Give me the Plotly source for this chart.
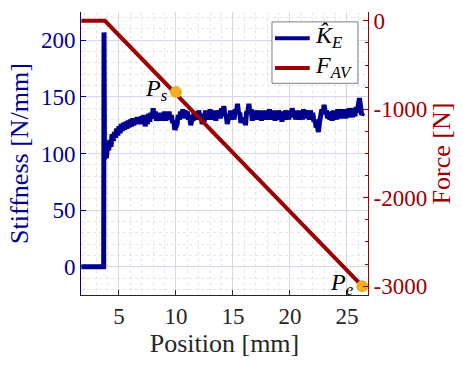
import numpy as np
import plotly.graph_objects as go

# ---- data ----
step_pos = [1.7, 3.66, 3.69, 3.73]
step_stiff = [0, 0, 207, 95]
noisy_pos = np.round(np.arange(3.8, 26.45, 0.1), 2).tolist()
noisy_stiff = [
    100, 96, 108, 103, 112, 106, 117, 111, 119, 114,
    122, 116, 124, 118, 126, 120, 127, 121, 128, 122,
    129, 123, 130, 124, 131, 125, 130, 126, 132, 126,
    132, 127, 133, 126, 134, 124, 130, 126, 135, 128,
    136, 131, 140, 132, 137, 129, 134, 130, 136, 129,
    135, 130, 137, 129, 136, 130, 137, 130, 134, 127,
    129, 121, 124, 126, 134, 130, 137, 131, 139, 132,
    138, 131, 137, 130, 134, 125, 130, 129, 137, 131,
    137, 130, 138, 131, 135, 126, 130, 130, 138, 131,
    137, 130, 139, 131, 138, 130, 137, 129, 138, 131,
    138, 131, 140, 134, 142, 133, 135, 126, 131, 130,
    138, 131, 137, 130, 139, 135, 144, 135, 136, 127,
    131, 128, 132, 125, 137, 136, 144, 135, 139, 129,
    137, 130, 138, 131, 137, 130, 138, 129, 137, 130,
    138, 130, 137, 131, 139, 130, 136, 131, 138, 129,
    137, 130, 138, 131, 136, 128, 137, 130, 138, 131,
    137, 130, 138, 132, 140, 133, 138, 130, 137, 130,
    138, 131, 137, 130, 139, 132, 138, 131, 137, 130,
    138, 131, 136, 128, 130, 123, 125, 119, 128, 133,
    139, 135, 143, 136, 138, 131, 137, 130, 136, 129,
    138, 131, 137, 130, 139, 132, 138, 131, 139, 132,
    138, 131, 139, 132, 140, 133, 139, 132, 140, 133,
    141, 136, 146, 149, 141, 134, 136,
]
stiff_pos = step_pos + noisy_pos[:len(noisy_stiff)]
stiff_vals = step_stiff + noisy_stiff

force_pos = [1.7, 3.77, 26.35]
force_vals = [0, 0, -3000]

pt_pos = [10.0, 26.35]
pt_force = [-806, -3000]
pt_labels = ["<i>P</i><sub><i>s</i></sub>", "<i>P</i><sub><i>e</i></sub>"]

series_names = ["<i>K̂</i><sub><i>E</i></sub>", "<i>F</i><sub><i>AV</i></sub>"]

x_ticks = [5, 10, 15, 20, 25]
y1_ticks = [0, 50, 100, 150, 200]
y2_ticks = [0, -1000, -2000, -3000]
y2_ticktext = ["0", "-1000", "-2000", "-3000"]

BLUE = "#00008f"
RED = "#9c0000"
GOLD = "#edb120"
FONT = "Liberation Serif, Times New Roman, serif"
TICK = 23
TITLE = 26

fig = go.Figure()
fig.add_trace(go.Scatter(x=stiff_pos, y=stiff_vals, mode="lines",
                         line=dict(color=BLUE, width=5), name=series_names[0],
                         showlegend=False))
fig.add_trace(go.Scatter(x=force_pos, y=force_vals, mode="lines",
                         line=dict(color=RED, width=4), yaxis="y2", name=series_names[1],
                         showlegend=False))
fig.add_trace(go.Scatter(x=pt_pos, y=pt_force, mode="markers", yaxis="y2",
                         marker=dict(color=GOLD, size=12), showlegend=False,
                         cliponaxis=False))
for px, pf, lab in zip(pt_pos, pt_force, pt_labels):
    fig.add_annotation(x=px, y=pf, xref="x", yref="y2", text=lab, showarrow=False,
                       xanchor="right", yanchor="middle", xshift=-6, yshift=2,
                       font=dict(family=FONT, size=24, color="black"))

# manual legend box (paper coordinates of the plot area)
fig.add_shape(type="rect", xref="paper", yref="paper", x0=0.6655, x1=0.965,
              y0=0.748, y1=0.965, line=dict(color="#7f7f7f", width=1),
              fillcolor="white", layer="above")
for yy, col, name in zip([0.907, 0.802], [BLUE, RED], series_names):
    fig.add_shape(type="line", xref="paper", yref="paper", x0=0.676, x1=0.797,
                  y0=yy, y1=yy, line=dict(color=col, width=4), layer="above")
    fig.add_annotation(x=0.808, y=yy, xref="paper", yref="paper", text=name,
                       showarrow=False, xanchor="left", yanchor="middle", yshift=1,
                       font=dict(family=FONT, size=24, color="black"))

fig.update_layout(
    width=463, height=365,
    margin=dict(l=81, r=95, t=9, b=70),
    paper_bgcolor="white", plot_bgcolor="white",
    font=dict(family=FONT, size=TICK, color="#262626"),
    showlegend=False,
    xaxis=dict(range=[1.67, 26.85], tickvals=x_ticks, ticks="inside", ticklen=5,
               tickcolor="#262626", showline=True, linecolor="#262626", linewidth=1,
               showgrid=True, gridcolor="#d9d9d9", gridwidth=1, zeroline=False,
               tickfont=dict(family=FONT, size=TICK, color="#262626"),
               title=dict(text="Position [mm]", font=dict(family=FONT, size=TITLE, color="#262626"), standoff=2),
               minor=dict(dtick=1, showgrid=True, gridcolor="#e6e6e6", griddash="dot",
                          ticks="")),
    yaxis=dict(range=[-25, 225], tickvals=y1_ticks, ticks="inside", ticklen=5,
               tickcolor=BLUE, showline=True, linecolor=BLUE, linewidth=1,
               showgrid=True, gridcolor="#d8d8ec", gridwidth=1, zeroline=False,
               tickfont=dict(family=FONT, size=TICK, color=BLUE),
               title=dict(text="Stiffness [N/mm]", font=dict(family=FONT, size=TITLE, color=BLUE), standoff=4),
               minor=dict(dtick=10, showgrid=True, gridcolor="#e6e6e6", griddash="dot",
                          ticks="")),
    yaxis2=dict(range=[-3100, 100], tickvals=y2_ticks, ticktext=y2_ticktext,
                overlaying="y", side="right",
                ticks="inside", ticklen=5, tickcolor=RED, showline=True, linecolor=RED,
                linewidth=1, showgrid=False, zeroline=False,
                tickfont=dict(family=FONT, size=TICK, color=RED),
                title=dict(text="Force [N]", font=dict(family=FONT, size=TITLE, color=RED), standoff=4),
                minor=dict(dtick=250, ticks="inside", ticklen=3, tickcolor=RED)),
)

fig.write_html("out.html")
